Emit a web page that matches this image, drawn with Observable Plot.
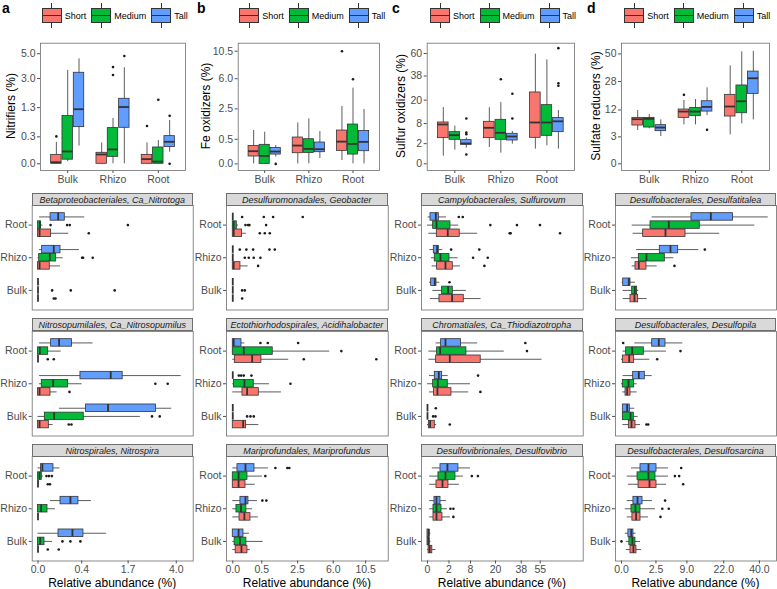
<!DOCTYPE html>
<html><head><meta charset="utf-8">
<script src="https://cdn.jsdelivr.net/npm/d3@7"></script>
<script src="https://cdn.jsdelivr.net/npm/@observablehq/plot@0.6"></script>
<style>
body{margin:0;background:#fff;font-family:"Liberation Sans",Arial,sans-serif;}
#root{position:relative;width:777px;height:589px;overflow:hidden;background:#fff;}
.strip{position:absolute;box-sizing:border-box;height:13px;background:#D9D9D9;border:0.8px solid #6e6e6e;font-style:italic;font-size:9px;line-height:12px;text-align:center;color:#1a1a1a;white-space:nowrap;overflow:hidden;}
.ytitle{position:absolute;transform:translate(-50%,-50%) rotate(-90deg);font-size:12px;white-space:nowrap;color:#000;}
.xtitle{position:absolute;font-size:12px;text-align:center;white-space:nowrap;color:#000;}
.letter{position:absolute;font-size:14px;font-weight:bold;color:#000;}
.legend{position:absolute;display:flex;align-items:center;height:31px;}
.key{position:relative;width:20px;height:31px;margin-right:3px;}
.key .wh{position:absolute;left:9.6px;width:0.8px;top:3px;height:25px;background:#333;}
.key .bx{position:absolute;left:0;top:8px;width:20px;height:15px;box-sizing:border-box;border:0.8px solid #333;}
.key .md{position:absolute;left:0;top:14.7px;width:20px;height:1.6px;background:#333;}
.ltxt{font-size:9px;margin-right:5px;color:#000;}
</style></head><body><div id="root"></div>
<script>
// ---------------- data ----------------
const categories = ["Bulk", "Rhizo", "Root"];
const groups = ["Short", "Medium", "Tall"];
const groupColors = ["#F8766D", "#00BA38", "#619CFF"];
const xTitle = "Relative abundance (%)";

// rows: [category, group, lower whisker, q1, median, q3, upper whisker, outliers]
const nitrifiers = [
  ["Bulk","Short",0,0,0.001,0.033,0.19,[0.31]],
  ["Bulk","Medium",0.002,0.007,0.063,0.94,3.6,[]],
  ["Bulk","Tall",0.13,0.555,1.23,3.42,4.55,[]],
  ["Rhizo","Short",0,0,0.036,0.05,0.18,[]],
  ["Rhizo","Medium",0,0.02,0.085,0.526,0.85,[3.25,3.86]],
  ["Rhizo","Tall",0,0.535,1.33,1.745,3.81,[4.79]],
  ["Root","Short",0,0,0.009,0.033,0.18,[0.59]],
  ["Root","Medium",0,0,0.002,0.11,0.225,[1.69]],
  ["Root","Tall",0.056,0.115,0.2,0.316,0.775,[0.95,0]]
];
const feOxidizers = [
  ["Bulk","Short",0,0.045,0.133,0.268,0.92,[]],
  ["Bulk","Medium",0,0,0.053,0.3,0.83,[]],
  ["Bulk","Tall",0.04,0.072,0.126,0.212,0.278,[0]],
  ["Rhizo","Short",0,0.094,0.278,0.574,1.39,[]],
  ["Rhizo","Medium",0,0.1,0.186,0.503,1.675,[]],
  ["Rhizo","Tall",0.024,0.113,0.178,0.377,0.865,[]],
  ["Root","Short",0.009,0.14,0.41,0.92,2.72,[10.5]],
  ["Root","Medium",0,0.072,0.33,1.28,4.74,[5.93]],
  ["Root","Tall",0,0.133,0.4,0.9,2.44,[]]
];
const sulfurOxidizers = [
  ["Bulk","Short",0.29,3.25,7.63,8.42,15.6,[]],
  ["Bulk","Medium",0.92,2.84,4.05,4.94,7.0,[]],
  ["Bulk","Tall",1.21,1.78,2.04,2.76,3.3,[4.3,4.8,10.1,0.43]],
  ["Rhizo","Short",1.31,3.25,6.39,8.7,15.5,[]],
  ["Rhizo","Medium",0.56,2.84,4.74,9.54,18.5,[35.3]],
  ["Rhizo","Tall",1.9,2.68,3.68,4.44,5.15,[10.1,24.2]],
  ["Root","Short",1.06,3.33,8.42,25.1,59.3,[]],
  ["Root","Medium",1.6,3.86,8.42,16.97,53.3,[]],
  ["Root","Tall",1.06,4.94,8.9,10.3,14.0,[66,32,30]]
];
const sulfateReducers = [
  ["Bulk","Short",4.59,6.07,8.24,8.74,11.75,[]],
  ["Bulk","Medium",5.06,5.45,8.37,8.74,10.06,[]],
  ["Bulk","Tall",3.09,4.41,5.45,6.18,8.0,[]],
  ["Rhizo","Short",6.28,8.74,11.3,12.2,16.6,[19.7]],
  ["Rhizo","Medium",6.28,9.39,11.3,12.96,17.1,[]],
  ["Rhizo","Tall",9.65,11.3,13.4,16.2,23.9,[4.78]],
  ["Root","Short",3.47,9.26,13.6,19.7,39.7,[]],
  ["Root","Medium",6.61,10.6,16.2,25.4,51.8,[]],
  ["Root","Tall",8.0,20.25,30.3,35.2,52.4,[]]
];

const nitrotoga = [
  ["Root","Tall",0.0005,0.033,0.085,0.15,0.457,[]],
  ["Root","Medium",0,0,0.0007,0.002,0.005,[0.033,0.177,0.211,1.69]],
  ["Root","Short",0,0,0.0005,0.036,0.198,[0.539]],
  ["Rhizo","Tall",0.0005,0.0036,0.052,0.106,0.36,[]],
  ["Rhizo","Medium",0,0.0003,0.029,0.069,0.132,[0.407,0.425,0.627]],
  ["Rhizo","Short",0,0,0.0005,0.029,0.106,[]],
  ["Bulk","Tall",0,0,0,0,0,[]],
  ["Bulk","Medium",0,0,0,0,0,[0.042,0.225,1.23]],
  ["Bulk","Short",0,0,0,0,0,[0.052,0.064]]
];
const nitrosopumilus = [
  ["Root","Tall",0.0005,0.036,0.093,0.243,0.635,[]],
  ["Root","Medium",0,0,0.0007,0.0216,0.112,[]],
  ["Root","Short",0,0,0,0,0,[0.02,0.052]],
  ["Rhizo","Tall",0.0005,0.377,1.107,1.5,4.29,[]],
  ["Rhizo","Medium",0.0005,0.003,0.048,0.19,0.407,[2.88,3.52]],
  ["Rhizo","Short",0,0,0.0005,0.0326,0.0766,[0.207]],
  ["Bulk","Tall",0.096,0.484,1.027,2.91,3.74,[]],
  ["Bulk","Medium",0,0.0097,0.0545,0.438,2.19,[2.72,3.1]],
  ["Bulk","Short",0,0,0.0005,0.0245,0.048,[0.198,0.234]]
];
const nitrospira = [
  ["Root","Tall",0,0.002,0.004,0.05,0.1,[]],
  ["Root","Medium",0,0,0.0005,0.003,0.006,[0.015,0.025,0.04]],
  ["Root","Short",0,0,0,0,0,[0.02,0.03]],
  ["Rhizo","Tall",0.0326,0.106,0.22,0.342,0.597,[]],
  ["Rhizo","Medium",0,0,0.002,0.0188,0.064,[]],
  ["Rhizo","Short",0,0,0,0,0,[]],
  ["Bulk","Tall",0,0.088,0.248,0.432,0.978,[]],
  ["Bulk","Medium",0,0,0.001,0.0088,0.044,[0.125,0.22,0.376]],
  ["Bulk","Short",0,0,0,0,0,[0.02,0.09]]
];
const geobacter = [
  ["Root","Tall",0,0,0,0,0,[0.052,0.572,0.967,2.91]],
  ["Root","Medium",0,0,0.0005,0.0097,0.02,[0.096,0.14,0.165,0.66]],
  ["Root","Short",0,0,0.0005,0.052,0.11,[0.434,0.61,0.814]],
  ["Rhizo","Tall",0,0,0,0,0,[0.0294,0.11,0.246,0.8,1.05]],
  ["Rhizo","Medium",0,0,0,0,0,[0.086,0.152,0.262,0.455]],
  ["Rhizo","Short",0,0,0.0005,0.035,0.14,[0.382]],
  ["Bulk","Tall",0,0,0,0,0,[]],
  ["Bulk","Medium",0,0,0,0,0,[0.052,0.086]],
  ["Bulk","Short",0,0,0,0,0,[0.052]]
];
const acidihalobacter = [
  ["Root","Tall",0,0,0.0005,0.045,0.086,[0.455,0.728,2.54]],
  ["Root","Medium",0,0,0.072,0.95,5.59,[7.01]],
  ["Root","Short",0,0.0025,0.223,0.488,1.86,[3.0,12.25]],
  ["Rhizo","Tall",0,0,0,0,0,[0.0216,0.0415,0.072,0.207]],
  ["Rhizo","Medium",0,0.0007,0.081,0.262,0.8,[1.98]],
  ["Rhizo","Short",0,0.056,0.1225,0.403,1.41,[]],
  ["Bulk","Tall",0,0,0,0,0,[]],
  ["Bulk","Medium",0,0,0,0,0,[0.1225,0.186,0.262]],
  ["Bulk","Short",0,0,0.064,0.106,0.403,[]]
];
const mariprofundus = [
  ["Root","Tall",0,0.013,0.096,0.28,0.756,[1.08,1.77,1.9]],
  ["Root","Medium",0,0,0.02,0.128,0.52,[0.63]],
  ["Root","Short",0,0,0.02,0.096,0.3,[]],
  ["Rhizo","Tall",0,0.035,0.096,0.146,0.36,[0.52,0.67]],
  ["Rhizo","Medium",0,0.008,0.04,0.11,0.23,[]],
  ["Rhizo","Short",0,0.027,0.08,0.186,0.39,[]],
  ["Bulk","Tall",0,0,0.02,0.068,0.165,[]],
  ["Bulk","Medium",0,0.002,0.03,0.11,0.55,[]],
  ["Bulk","Short",0,0.005,0.045,0.128,0.186,[]]
];
const sulfurovum = [
  ["Root","Tall",0.002,0.039,0.3,0.554,1.56,[4.23,5.38]],
  ["Root","Medium",0,0.138,0.35,2.28,4.23,[17.1,34.6,54.7]],
  ["Root","Short",0.008,0.375,1.78,4.5,10.9,[29.2,29.9,76]],
  ["Rhizo","Tall",0.024,0.173,0.4,0.554,1.01,[2.41,11.6]],
  ["Rhizo","Medium",0.069,0.23,0.728,2.09,4.05,[8.99,15.7]],
  ["Rhizo","Short",0.094,0.4,1.4,2.77,4.69,[14.0]],
  ["Bulk","Tall",0.017,0.058,0.23,0.349,0.655,[2.09]],
  ["Bulk","Medium",0.123,0.927,1.84,2.77,6.55,[]],
  ["Bulk","Short",0.039,0.62,2.62,5.69,12.4,[]]
];
const thiodiazotropha = [
  ["Root","Tall",0.32,0.805,1.4,4.88,10.9,[41.4]],
  ["Root","Medium",0.008,0.4,0.69,6.55,25.5,[42.8]],
  ["Root","Short",0.008,0.324,2.15,12.25,56.7,[]],
  ["Rhizo","Tall",0.017,0.23,0.554,0.93,1.84,[11.06]],
  ["Rhizo","Medium",0,0.138,0.46,1.78,7.97,[]],
  ["Rhizo","Short",0.017,0.19,0.43,2.48,7.36,[12.1]],
  ["Bulk","Tall",0,0,0,0,0,[0.3]],
  ["Bulk","Medium",0,0,0,0,0,[0.138,0.276]],
  ["Bulk","Short",0,0.008,0.03,0.23,0.36,[2.15]]
];
const desulfovibrio = [
  ["Root","Tall",0.1,0.73,1.72,4.14,7.97,[]],
  ["Root","Medium",0.02,0.52,1.4,3.38,5.59,[8.5,11]],
  ["Root","Short",0.02,0.35,0.97,1.9,4.4,[]],
  ["Rhizo","Tall",0.02,0.21,0.35,0.73,1.56,[]],
  ["Rhizo","Medium",0.02,0.155,0.35,0.845,1.72,[2.28,2.9]],
  ["Rhizo","Short",0.02,0.155,0.35,0.97,2.28,[2.9]],
  ["Bulk","Tall",0,0,0.005,0.02,0.05,[]],
  ["Bulk","Medium",0,0,0.005,0.02,0.05,[]],
  ["Bulk","Short",0,0.005,0.02,0.1,0.3,[]]
];
const desulfatitalea = [
  ["Root","Tall",1.98,10.3,16.8,26.2,45.3,[]],
  ["Root","Medium",0.24,1.77,4.71,12.9,37.4,[]],
  ["Root","Short",0.286,0.988,4.07,8.62,20.3,[]],
  ["Rhizo","Tall",0.473,3.09,5.05,6.76,12.6,[14.6]],
  ["Rhizo","Medium",0.21,0.632,1.31,3.95,5.76,[]],
  ["Rhizo","Short",0.24,0.412,0.632,1.31,2.68,[5.91]],
  ["Bulk","Tall",0.001,0.006,0.113,0.17,0.412,[]],
  ["Bulk","Medium",0.006,0.24,0.374,0.516,0.632,[]],
  ["Bulk","Short",0.006,0.17,0.355,0.585,1.39,[]]
];
const desulfopila = [
  ["Root","Tall",0.374,1.98,2.93,4.07,7.92,[0.006]],
  ["Root","Medium",0.006,0.046,0.24,1.05,4.26,[7.32]],
  ["Root","Short",0,0.0037,0.124,0.338,1.69,[2.68]],
  ["Rhizo","Tall",0.006,0.286,0.632,1.145,1.98,[]],
  ["Rhizo","Medium",0,0.0037,0.103,0.338,0.516,[]],
  ["Rhizo","Short",0.0037,0.034,0.068,0.17,0.516,[]],
  ["Bulk","Tall",0.0037,0.0037,0.068,0.146,0.374,[]],
  ["Bulk","Medium",0.0037,0.0037,0.17,0.32,0.585,[]],
  ["Bulk","Short",0.0037,0.113,0.21,0.412,0.76,[1.31,1.5]]
];
const desulfosarcina = [
  ["Root","Tall",0.21,0.76,1.53,2.58,4.65,[7.5]],
  ["Root","Medium",0.07,0.54,1.53,2.43,4.65,[6.0,7.0]],
  ["Root","Short",0.1,0.61,1.65,2.58,4.26,[8.0]],
  ["Rhizo","Tall",0.07,0.3,0.54,0.93,2.02,[4.0]],
  ["Rhizo","Medium",0.03,0.21,0.41,0.76,2.43,[3.5,4.7]],
  ["Rhizo","Short",0.07,0.25,0.45,0.76,1.53,[3.2]],
  ["Bulk","Tall",0.03,0.1,0.2,0.3,0.45,[]],
  ["Bulk","Medium",0.05,0.13,0.25,0.41,0.76,[0]],
  ["Bulk","Short",0.05,0.17,0.3,0.47,0.85,[]]
];

// tick labels
const ticksTopA = [0, 0.3, 1.3, 3.0, 5.0];
const ticksTopB = [0, 0.5, 2.5, 6.0, 10.5];
const ticksTopC = [0, 2, 8, 20, 38, 60];
const ticksTopD = [0, 3, 12, 28, 50];
const ticksBotA = [0, 0.4, 1.7, 4.0];
const ticksBotB = [0, 0.5, 2.5, 6.0, 10.5];
const ticksBotC = [0, 2, 8, 20, 38, 55];
const ticksBotD = [0, 2.5, 9.0, 22.0, 40.0];

const columns = [
  {letter:"a", ytitle:"Nitrifiers (%)", top:nitrifiers, topTicks:ticksTopA, topFmt:".1f", botTicks:ticksBotA, botFmt:".1f",
   facets:[["Betaproteobacteriales, Ca_Nitrotoga",nitrotoga],["Nitrosopumilales, Ca_Nitrosopumilus",nitrosopumilus],["Nitrospirales, Nitrospira",nitrospira]]},
  {letter:"b", ytitle:"Fe oxidizers (%)", top:feOxidizers, topTicks:ticksTopB, topFmt:".1f", botTicks:ticksBotB, botFmt:".1f",
   facets:[["Desulfuromonadales, Geobacter",geobacter],["Ectothiorhodospirales, Acidihalobacter",acidihalobacter],["Mariprofundales, Mariprofundus",mariprofundus]]},
  {letter:"c", ytitle:"Sulfur oxidizers (%)", top:sulfurOxidizers, topTicks:ticksTopC, topFmt:"d", botTicks:ticksBotC, botFmt:"d",
   facets:[["Campylobacterales, Sulfurovum",sulfurovum],["Chromatiales, Ca_Thiodiazotropha",thiodiazotropha],["Desulfovibrionales, Desulfovibrio",desulfovibrio]]},
  {letter:"d", ytitle:"Sulfate reducers (%)", top:sulfateReducers, topTicks:ticksTopD, topFmt:"d", botTicks:ticksBotD, botFmt:".1f",
   facets:[["Desulfobacterales, Desulfatitalea",desulfatitalea],["Desulfobacterales, Desulfopila",desulfopila],["Desulfobacterales, Desulfosarcina",desulfosarcina]]}
];

// ---------------- layout ----------------
const layout = [
  {left:0,   width:195, topML:40,   topMR:10, facML:31.7, facMR:2.3, yTitleX:11,  legendX:41.7,  letterX:2,   topSq:[-0.136,2.45], facSq:[-0.084,2.245]},
  {left:195, width:195, topML:42.7, topMR:11, facML:31,   facMR:2.3, yTitleX:206, legendX:239.3, letterX:197, topSq:[-0.19,3.47],  facSq:[-0.153,3.79]},
  {left:390, width:195, topML:36.7, topMR:11, facML:31,   facMR:2.3, yTitleX:401, legendX:430,   letterX:392, topSq:[-0.47,8.47],  facSq:[-0.394,10.24]},
  {left:585, width:192, topML:36,   topMR:8,  facML:30,   facMR:1,   yTitleX:596, legendX:624.3, letterX:587, topSq:[-0.43,7.76],  facSq:[-0.275,7.11]}
];
const stripTops = [192.5, 318, 443.5];
const STRIP_H = 12.5, PANEL_H = 104.5;
const TOP_SVG_Y = 30, TOP_MT = 12.7, TOP_FRAME_H = 127.3, TOP_MB = 20;
const offsets = {Short:-0.25, Medium:0, Tall:0.25};
const HW = 0.115;
const sq = s => Math.sign(s) * s * s;
const INK = "#333333", AXC = "#4D4D4D", BORDER = "#6e6e6e";
const plotStyle = {fontFamily:"'Liberation Sans', Arial, sans-serif", fontSize:"10.5px", overflow:"visible", background:"transparent", maxWidth:"none", color:AXC};

function prep(rows) {
  const boxes = rows.map(([cat, grp, lo, q1, med, q3, hi, out]) => ({
    pos: categories.indexOf(cat) + 1 + offsets[grp], grp, lo, q1, med, q3, hi, out
  }));
  const outs = boxes.flatMap(b => b.out.map(v => ({pos: b.pos, v})));
  return {boxes, outs};
}

const root = document.getElementById("root");
function place(el, x, y) {
  el.style.position = "absolute"; el.style.left = x + "px"; el.style.top = y + "px";
  root.appendChild(el);
  return el;
}

columns.forEach((col, ci) => {
  const L = layout[ci];
  const lt = document.createElement("div"); lt.className = "letter"; lt.textContent = col.letter;
  place(lt, L.letterX, 0);
  const lg = document.createElement("div"); lg.className = "legend";
  groups.forEach((g, gi) => {
    const k = document.createElement("div"); k.className = "key";
    k.innerHTML = `<div class="wh"></div><div class="bx" style="background:${groupColors[gi]}"></div><div class="md"></div>`;
    const t = document.createElement("span"); t.className = "ltxt"; t.textContent = g;
    lg.appendChild(k); lg.appendChild(t);
  });
  place(lg, L.legendX, 0);

  const T = prep(col.top);
  const topPlot = Plot.plot({
    width: L.width, height: TOP_MT + TOP_FRAME_H + TOP_MB,
    marginLeft: L.topML, marginRight: L.topMR, marginTop: TOP_MT, marginBottom: TOP_MB,
    style: plotStyle,
    x: {type: "linear", domain: [0.4, 3.6]},
    y: {type: "sqrt", domain: L.topSq.map(sq)},
    color: {domain: groups, range: groupColors},
    marks: [
      Plot.ruleX(T.boxes, {x: "pos", y1: "lo", y2: "hi", stroke: INK, strokeWidth: 0.8}),
      Plot.rect(T.boxes, {x1: d => d.pos - HW, x2: d => d.pos + HW, y1: "q1", y2: "q3", fill: "grp", stroke: INK, strokeWidth: 0.8}),
      Plot.ruleY(T.boxes, {y: "med", x1: d => d.pos - HW, x2: d => d.pos + HW, stroke: INK, strokeWidth: 1.8}),
      Plot.dot(T.outs, {x: "pos", y: "v", r: 1.3, fill: "#1a1a1a"}),
      Plot.axisY({ticks: col.topTicks, tickFormat: d3.format(col.topFmt), tickSize: 3, tickPadding: 2, label: null, color: AXC}),
      Plot.axisX({ticks: [1, 2, 3], tickFormat: i => categories[i - 1], tickSize: 3, tickPadding: 2, label: null, color: AXC}),
      Plot.frame({stroke: BORDER, strokeWidth: 0.8})
    ]
  });
  place(topPlot, L.left, TOP_SVG_Y);
  const yt = document.createElement("div"); yt.className = "ytitle"; yt.textContent = col.ytitle;
  place(yt, L.yTitleX, TOP_SVG_Y + TOP_MT + TOP_FRAME_H / 2);

  const facFrameW = L.width - L.facML - L.facMR;
  col.facets.forEach(([title, rows], ri) => {
    const F = prep(rows);
    const last = ri === col.facets.length - 1;
    const mt = 2, mb = last ? 20 : 2;
    const panelTop = stripTops[ri] + STRIP_H;
    const marks = [
      Plot.ruleY(F.boxes, {y: "pos", x1: "lo", x2: "hi", stroke: INK, strokeWidth: 0.8}),
      Plot.rect(F.boxes, {y1: d => d.pos - HW, y2: d => d.pos + HW, x1: "q1", x2: "q3", fill: "grp", stroke: INK, strokeWidth: 0.8}),
      Plot.ruleX(F.boxes, {x: "med", y1: d => d.pos - HW, y2: d => d.pos + HW, stroke: INK, strokeWidth: 1.8}),
      Plot.dot(F.outs, {y: "pos", x: "v", r: 1.3, fill: "#1a1a1a"}),
      Plot.axisY({ticks: [1, 2, 3], tickFormat: i => categories[i - 1], tickSize: 3, tickPadding: 2, label: null, color: AXC}),
      Plot.frame({stroke: BORDER, strokeWidth: 0.8})
    ];
    if (last) marks.push(Plot.axisX({ticks: col.botTicks, tickFormat: d3.format(col.botFmt), tickSize: 3, tickPadding: 2, label: null, color: AXC}));
    const p = Plot.plot({
      width: L.width, height: mt + PANEL_H + mb,
      marginLeft: L.facML, marginRight: L.facMR, marginTop: mt, marginBottom: mb,
      style: plotStyle,
      y: {type: "linear", domain: [0.4, 3.6]},
      x: last ? {type: "sqrt", domain: L.facSq.map(sq)} : {type: "sqrt", domain: L.facSq.map(sq), axis: null},
      color: {domain: groups, range: groupColors},
      marks
    });
    place(p, L.left, panelTop - mt);
    const st = document.createElement("div"); st.className = "strip"; st.textContent = title;
    st.style.width = facFrameW + "px";
    place(st, L.left + L.facML, stripTops[ri]);
    if (last) {
      const xt = document.createElement("div"); xt.className = "xtitle"; xt.textContent = xTitle;
      xt.style.width = facFrameW + "px";
      place(xt, L.left + L.facML, panelTop + PANEL_H + 15);
    }
  });
});
</script>
</body></html>
